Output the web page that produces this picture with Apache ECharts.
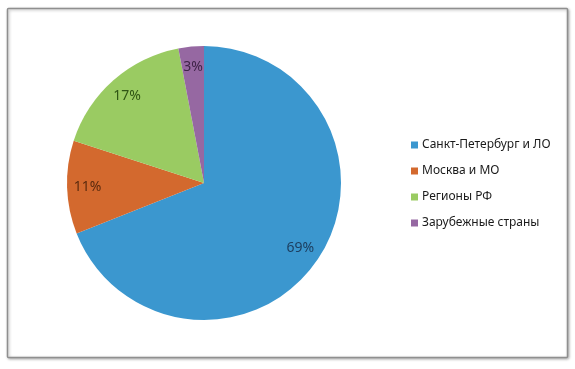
<!DOCTYPE html>
<html><head><meta charset="utf-8">
<script src="https://cdn.jsdelivr.net/npm/echarts@6/dist/echarts.min.js"></script>
<style>html,body{margin:0;padding:0;background:#fff}#c{width:575px;height:369px}</style>
</head><body><div id="c"></div>
<script>
const categories = ['Санкт-Петербург и ЛО', 'Москва и МО', 'Регионы РФ', 'Зарубежные страны'];
const values = [69, 11, 17, 3];
const colors = ['#3b97cf', '#d3692e', '#9acb62', '#9668a2'];
const labelColors = ['#1d3f60', '#5a2a0e', '#2f5514', '#3f2448'];

const chart = echarts.init(document.getElementById('c'), null, {renderer: 'canvas'});
const mainData = categories.map((n, i) => ({name: n, value: values[i], itemStyle: {color: colors[i]}}));
const labelData = categories.map((n, i) => ({name: n, value: values[i], label: {color: labelColors[i]}}));
chart.setOption({
  animation: false,
  graphic: [{
    type: 'rect', shape: {x: 7.5, y: 8.5, width: 560, height: 349, r: 1},
    style: {fill: '#fff', stroke: '#8f8f8f', lineWidth: 1.5, shadowBlur: 3, shadowColor: 'rgba(0,0,0,0.3)', shadowOffsetX: 1, shadowOffsetY: 1},
    z: -10
  }],
  legend: {
    orient: 'vertical', left: 406, top: 134, itemWidth: 7, itemHeight: 7, itemGap: 14, icon: 'rect',
    textStyle: {fontFamily: 'Noto Sans', fontSize: 12, color: '#1a1a1a', padding: [0, 0, 0, -1]},
    data: categories
  },
  series: [{
    type: 'pie', center: [204, 183], radius: [0, 137], startAngle: 90, clockwise: true,
    label: {show: false}, labelLine: {show: false}, silent: true,
    data: mainData
  }, {
    type: 'pie', center: [204, 183], radius: [90, 137], startAngle: 90, clockwise: true,
    silent: true, legendHoverLink: false,
    itemStyle: {color: 'rgba(0,0,0,0)'},
    label: {show: true, position: 'inside', formatter: '{c}%', fontFamily: 'Noto Sans', fontSize: 14},
    labelLine: {show: false},
    data: labelData
  }]
});
</script></body></html>
